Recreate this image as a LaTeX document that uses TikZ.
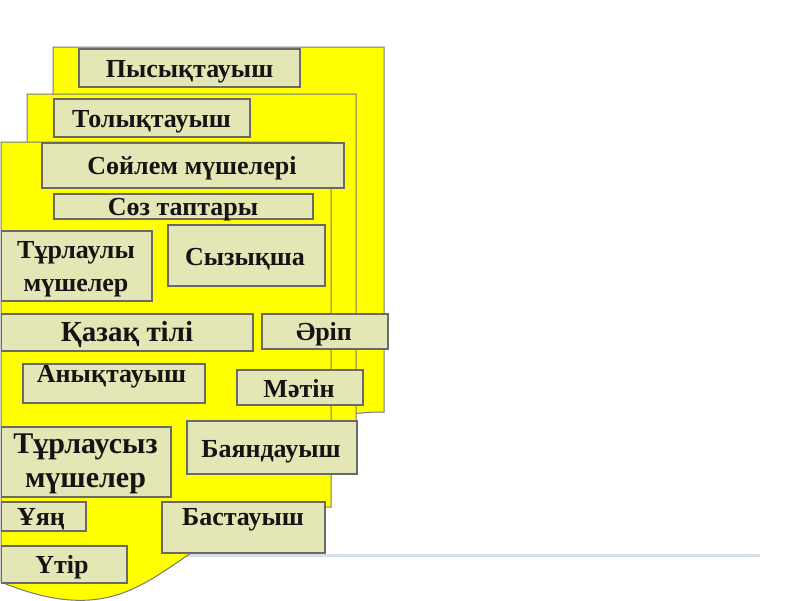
\documentclass[tikz,border=0pt]{standalone}
\usepackage{fontspec}
\setmainfont{Liberation Serif}
\definecolor{pagefill}{RGB}{255,255,0}
\definecolor{boxfill}{RGB}{228,230,182}
\definecolor{boxline}{RGB}{105,105,105}
\definecolor{pageline}{RGB}{120,120,120}
\definecolor{rulecol}{RGB}{214,222,232}
\definecolor{txtcol}{RGB}{20,20,20}
\newcommand\kbx[5]{\node[kbox, anchor=north west, minimum width={#4-#2}, minimum height={#5-#3}] (#1) at (#2,#3) {};}
\begin{document}
\begin{tikzpicture}[x=1pt,y=-1pt,
  page/.style={fill=pagefill, draw=pageline, line width=1},
  kbox/.style={fill=boxfill, draw=boxline, line width=1.6, inner sep=0},
  ktext/.style={font=\bfseries\fontsize{26}{33}\selectfont, inner sep=0, text=txtcol, align=center}]
\useasboundingbox (0,0) rectangle (800,600);
\fill[white] (0,0) rectangle (800,600);
\coordinate (r1) at (150,555.5);
\coordinate (r2) at (760,555.5);
\draw[rulecol, line width=2.5] (r1) -- (r2);
% pages
\draw[page] (53,47) -- (384,47) -- (384,412) .. controls (218.5,412) and (218.5,555) .. (53,487) -- cycle;
\draw[page] (27,94) -- (356,94) -- (356,459) .. controls (191.5,459) and (191.5,602) .. (27,534) -- cycle;
\draw[page] (1,142) -- (331,142) -- (331,507) .. controls (166,507) and (166,650) .. (1,582) -- cycle;
% boxes
\kbx{b1}{78}{48}{299}{86}
\kbx{b2}{53}{98}{249}{136}
\kbx{b3}{41}{142}{343}{187}
\kbx{b4}{53}{193}{312}{218}
\kbx{b5}{0.8}{230}{151}{300}
\kbx{b6}{167}{224}{324}{285}
\kbx{b7}{0.8}{313}{252}{350}
\kbx{b8}{261}{313}{387}{348}
\kbx{b9}{22}{363}{204}{402}
\kbx{b10}{236}{369}{362}{404}
\kbx{b11}{0.8}{426}{170}{496}
\kbx{b12}{186}{420}{356}{473}
\kbx{b13}{0.8}{501}{85}{530}
\kbx{b14}{161}{501}{324}{552}
\kbx{b15}{0.8}{545}{126}{582}
% texts
\node[ktext, anchor=base] (t1) at (189.5,77) {Пысықтауыш};
\node[ktext, anchor=base] (t2) at (151.5,127) {Толықтауыш};
\node[ktext, anchor=base] (t3) at (192,174) {Сөйлем мүшелері};
\node[ktext, anchor=base] (t4) at (183,215) {Сөз таптары};
\node[ktext, anchor=base] (t5) at (76,291) {Тұрлаулы\\мүшелер};
\node[ktext, anchor=base] (t6) at (245,265) {Сызықша};
\node[ktext, anchor=base, font=\bfseries\fontsize{29}{34}\selectfont] (t7) at (127,341) {Қазақ тілі};
\node[ktext, anchor=base] (t8) at (324,340) {Әріп};
\node[ktext, anchor=base] (t9) at (111.5,382) {Анықтауыш};
\node[ktext, anchor=base] (t10) at (299,397) {Мәтін};
\node[ktext, anchor=base, font=\bfseries\fontsize{30}{34}\selectfont] (t11) at (85.5,487) {Тұрлаусыз\\мүшелер};
\node[ktext, anchor=base] (t12) at (271,457) {Баяндауыш};
\node[ktext, anchor=base] (t13) at (41,525) {Ұяң};
\node[ktext, anchor=base] (t14) at (243,525) {Бастауыш};
\node[ktext, anchor=base] (t15) at (62,573) {Үтір};
\end{tikzpicture}
\end{document}
